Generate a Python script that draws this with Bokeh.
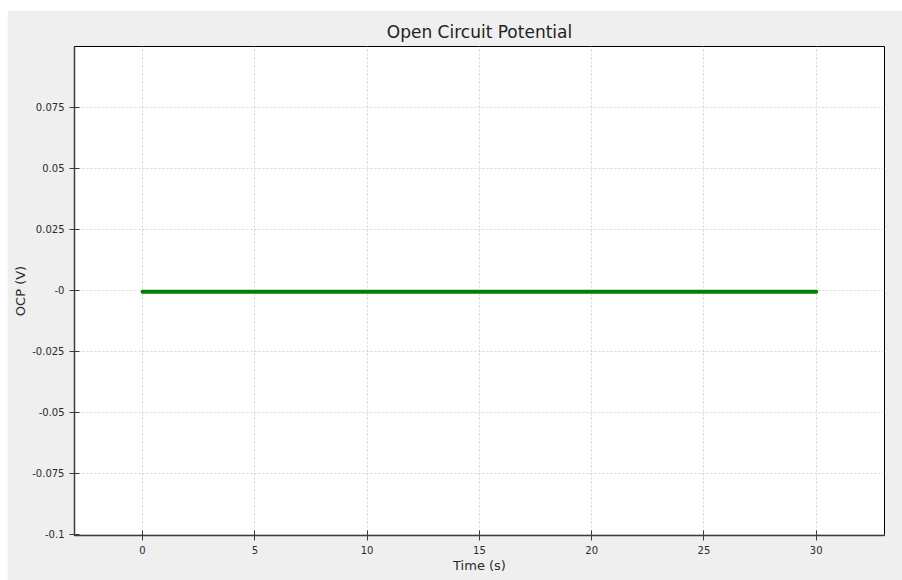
from bokeh.plotting import figure
from bokeh.models import FixedTicker, Range1d, Spacer
from bokeh.layouts import column, row
from bokeh.embed import file_html
from bokeh.resources import INLINE

# Data
time_s = [0, 1, 2, 3, 4, 5, 6, 7, 8, 9, 10, 11, 12, 13, 14, 15, 16, 17, 18, 19, 20,
          21, 22, 23, 24, 25, 26, 27, 28, 29, 30]
ocp_v = [-0.0006, -0.0006, -0.0006, -0.0006, -0.0006, -0.0006, -0.0006, -0.0006,
         -0.0006, -0.0006, -0.0006, -0.0006, -0.0006, -0.0006, -0.0006, -0.0006,
         -0.0006, -0.0006, -0.0006, -0.0006, -0.0006, -0.0006, -0.0006, -0.0006,
         -0.0006, -0.0006, -0.0006, -0.0006, -0.0006, -0.0006, -0.0006]

x_ticks = [0, 5, 10, 15, 20, 25, 30]
y_ticks = [-0.1, -0.075, -0.05, -0.025, 0, 0.025, 0.05, 0.075]
y_tick_labels = ["-0.1", "-0.075", "-0.05", "-0.025", "-0", "0.025", "0.05", "0.075"]

FONT = "DejaVu Sans"
TXT = "#2b2b2b"

p = figure(width=895, height=570, output_backend="svg", toolbar_location=None,
           title="Open Circuit Potential",
           x_range=Range1d(-3.03, 33.04), y_range=Range1d(-0.1005, 0.1),
           min_border_left=67, min_border_right=18, min_border_top=36, min_border_bottom=45)

p.background_fill_color = "white"
p.border_fill_color = "#efefef"
p.outline_line_color = "black"
p.outline_line_width = 1
p.outline_line_alpha = 1.0

p.title.align = "center"
p.title.text_font = FONT
p.title.text_font_size = "17px"
p.title.text_font_style = "normal"
p.title.text_color = "#222222"
p.title.standoff = 9

p.line(time_s, ocp_v, line_color="#008000", line_width=4, line_cap="round")

for ax in (p.xaxis[0], p.yaxis[0]):
    ax.axis_line_color = "#3c3c3c"
    ax.axis_line_width = 1.5
    ax.major_tick_line_color = "#3c3c3c"
    ax.major_tick_in = 5
    ax.major_tick_out = 5
    ax.minor_tick_line_color = None
    ax.major_label_text_font = FONT
    ax.major_label_text_font_size = "10px"
    ax.major_label_text_color = TXT
    ax.major_label_standoff = 5
    ax.axis_label_text_font = FONT
    ax.axis_label_text_font_size = "13px"
    ax.axis_label_text_font_style = "normal"
    ax.axis_label_text_color = TXT

p.xaxis[0].ticker = FixedTicker(ticks=x_ticks)
p.xaxis[0].axis_label = "Time (s)"
p.xaxis[0].axis_label_standoff = 1

p.yaxis[0].ticker = FixedTicker(ticks=y_ticks)
p.yaxis[0].major_label_overrides = {t: l for t, l in zip(y_ticks, y_tick_labels)}
p.yaxis[0].axis_label = "OCP (V)"
p.yaxis[0].axis_label_standoff = 1

for g in (p.xgrid[0], p.ygrid[0]):
    g.grid_line_color = "#d6d6d6"
    g.grid_line_dash = "2 2"
    g.grid_line_width = 1
p.xgrid[0].ticker = FixedTicker(ticks=x_ticks)
p.ygrid[0].ticker = FixedTicker(ticks=y_ticks)

layout = column(Spacer(height=10, width=902),
                row(Spacer(width=7, height=570), p, spacing=0),
                spacing=0)

open("out.html", "w").write(file_html(layout, INLINE))
